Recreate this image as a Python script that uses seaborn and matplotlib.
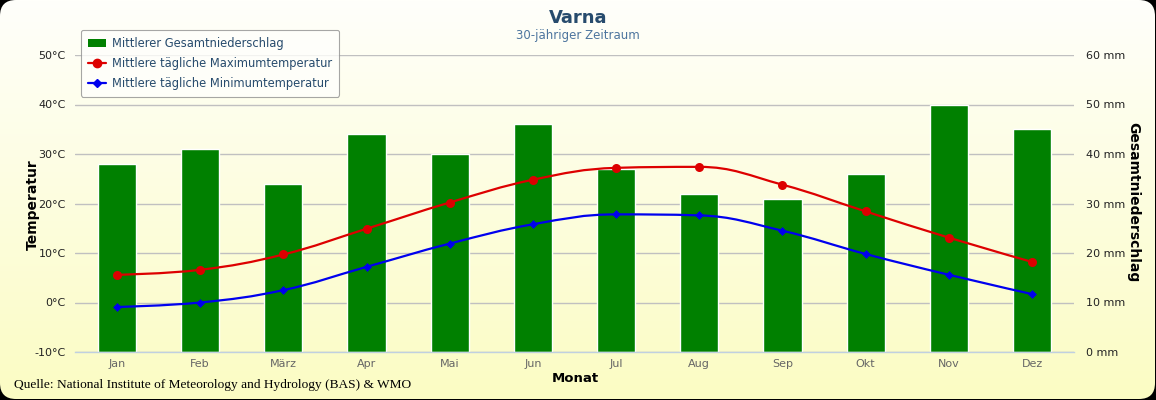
import numpy as np
import pandas as pd
import matplotlib
matplotlib.use("Agg")
import matplotlib.pyplot as plt
from matplotlib.patches import FancyBboxPatch, PathPatch
from matplotlib.path import Path
from matplotlib.lines import Line2D
from matplotlib.patches import Patch
import seaborn as sns

months = ["Jan", "Feb", "März", "Apr", "Mai", "Jun", "Jul", "Aug", "Sep", "Okt", "Nov", "Dez"]
precip = [38, 41, 34, 44, 40, 46, 37, 32, 31, 36, 50, 45]
tmax = [5.6, 6.6, 9.7, 14.9, 20.2, 24.8, 27.2, 27.4, 23.8, 18.4, 13.1, 8.2]
tmin = [-0.9, 0.0, 2.5, 7.2, 11.9, 15.8, 17.8, 17.6, 14.5, 9.8, 5.6, 1.7]
temp_ticks = [-10, 0, 10, 20, 30, 40, 50]
precip_ticks = [0, 10, 20, 30, 40, 50, 60]

sns.set_theme(style="white")
plt.rcParams["font.family"] = ["DejaVu Sans"]

W, H = 1156, 400
fig = plt.figure(figsize=(W / 100, H / 100), dpi=100, facecolor="black")

# background with rounded corners and vertical gradient
bg = fig.add_axes([0, 0, 1, 1])
bg.set_xlim(0, W)
bg.set_ylim(H, 0)
bg.axis("off")
top = np.array([255, 255, 251]) / 255
bot = np.array([251, 252, 195]) / 255
t = np.linspace(0, 1, 256)[:, None]
grad = top[None, :] * (1 - t) + bot[None, :] * t
grad = np.repeat(grad[:, None, :], 2, axis=1)
im = bg.imshow(grad, extent=[0, W, H, 0], aspect="auto", zorder=0)
clip = FancyBboxPatch((0, 0), W - 1, H - 1, boxstyle="round,pad=0,rounding_size=16",
                      transform=bg.transData, facecolor="none", edgecolor="none")
bg.add_patch(clip)
im.set_clip_path(clip)

# plot area
L, R, T, B = 75.4, 1073.6, 55, 352
ax = fig.add_axes([L / W, 1 - B / H, (R - L) / W, (B - T) / H])
ax.set_facecolor("none")
df = pd.DataFrame({"Monat": months, "precip": precip, "tmax": tmax, "tmin": tmin})

sns.barplot(data=df, x="Monat", y="precip", color="#008000", saturation=1,
            width=0.46, ax=ax, zorder=2)
ax2 = ax.twinx()

ax.set_xlim(-0.5, 11.5)
ax.set_ylim(0, 60)
ax.set_yticks(precip_ticks)
ax.set_yticklabels([f"{v} mm" for v in precip_ticks])
ax.yaxis.tick_right()
ax.yaxis.set_label_position("right")
ax.set_ylabel("Gesamtniederschlag", fontsize=10, fontweight="bold", rotation=-90,
              color="black", va="center", ha="center")
ax.yaxis.set_label_coords((1133 - L) / (R - L), (B - 202) / (B - T))
ax.set_xlabel("Monat", fontsize=9.5, fontweight="bold", color="black", va="center")
ax.xaxis.set_label_coords((575 - L) / (R - L), (B - 378) / (B - T))
ax.grid(axis="y", color="#C0C0C0", linewidth=1)
ax.set_axisbelow(True)
for s in ["top", "left", "right"]:
    ax.spines[s].set_visible(False)
ax.spines["bottom"].set_color("#C0D0E0")
ax.spines["bottom"].set_linewidth(1)
ax.tick_params(axis="y", length=0, pad=9, labelsize=8, labelcolor="#222222")
ax.tick_params(axis="x", which="major", length=0, pad=5, labelsize=8, labelcolor="#666666")
ax.set_xticks(np.arange(-0.5, 12, 1), minor=True)
ax.tick_params(axis="x", which="minor", length=5, width=1, color="#C0D0E0", direction="out")

ax2.set_facecolor("none")
ax2.set_ylim(-10, 50)
ax2.set_yticks(temp_ticks)
ax2.set_yticklabels([f"{v}°C" for v in temp_ticks])
ax2.yaxis.tick_left()
ax2.yaxis.set_label_position("left")
ax2.set_ylabel("Temperatur", fontsize=10, fontweight="bold", color="black",
               va="center", ha="center")
ax2.yaxis.set_label_coords((33 - L) / (R - L), (B - 205) / (B - T))
ax2.tick_params(axis="y", length=0, pad=7, labelsize=8, labelcolor="#222222")
for s in ax2.spines.values():
    s.set_visible(False)


def spline_path(xs, ys, smoothing=1.5):
    n = len(xs)
    denom = smoothing + 1
    lc = [(xs[i], ys[i]) for i in range(n)]
    rc = [(xs[i], ys[i]) for i in range(n)]
    for i in range(1, n - 1):
        px, py = xs[i], ys[i]
        lx, ly = xs[i - 1], ys[i - 1]
        nx, ny = xs[i + 1], ys[i + 1]
        lcx = (smoothing * px + lx) / denom
        lcy = (smoothing * py + ly) / denom
        rcx = (smoothing * px + nx) / denom
        rcy = (smoothing * py + ny) / denom
        if rcx != lcx:
            corr = ((rcy - lcy) * (rcx - px)) / (rcx - lcx) + py - rcy
            lcy += corr
            rcy += corr
        if lcy > ly and lcy > py:
            lcy = max(ly, py)
            rcy = 2 * py - lcy
        elif lcy < ly and lcy < py:
            lcy = min(ly, py)
            rcy = 2 * py - lcy
        if rcy > ny and rcy > py:
            rcy = max(ny, py)
            lcy = 2 * py - rcy
        elif rcy < ny and rcy < py:
            rcy = min(ny, py)
            lcy = 2 * py - rcy
        lc[i] = (lcx, lcy)
        rc[i] = (rcx, rcy)
    verts = [(xs[0], ys[0])]
    codes = [Path.MOVETO]
    for i in range(1, n):
        verts += [rc[i - 1], lc[i], (xs[i], ys[i])]
        codes += [Path.CURVE4] * 3
    return Path(verts, codes)


xpos = np.arange(len(months))
for vals, col, mk, ms in [(tmax, "#DD0000", "o", 6.5), (tmin, "#0000EE", "D", 4.5)]:
    path = spline_path(list(xpos), list(vals))
    ax2.add_patch(PathPatch(path, facecolor="none", edgecolor=col, linewidth=1.6, zorder=3))
    sns.scatterplot(x=xpos, y=vals, color=col, marker=mk, s=ms ** 2, linewidth=0,
                    ax=ax2, zorder=4, legend=False)
ax2.set_xlim(-0.5, 11.5)

# titles
fig.text(578 / W, 1 - 18 / H, "Varna", ha="center", va="center", fontsize=13,
         fontweight="bold", color="#274b6d")
fig.text(578 / W, 1 - 36 / H, "30-jähriger Zeitraum", ha="center", va="center",
         fontsize=8.5, color="#4d759e")

# legend
handles = [
    Patch(facecolor="#008000", edgecolor="none"),
    Line2D([0], [0], color="#DD0000", marker="o", markersize=6, linewidth=1.6),
    Line2D([0], [0], color="#0000EE", marker="D", markersize=4.5, linewidth=1.6),
]
labels = ["Mittlerer Gesamtniederschlag", "Mittlere tägliche Maximumtemperatur",
          "Mittlere tägliche Minimumtemperatur"]
leg = fig.legend(handles, labels, loc="upper left", bbox_to_anchor=(81 / W, 1 - 30 / H),
                 fontsize=8.3, frameon=True, fancybox=True, handlelength=1.6,
                 handletextpad=0.5, labelspacing=0.6, borderpad=0.6,
                 borderaxespad=0)
leg.get_frame().set_edgecolor("#909090")
leg.get_frame().set_facecolor("#FFFFFC")
leg.get_frame().set_linewidth(0.8)
for txt in leg.get_texts():
    txt.set_color("#274b6d")

# source
fig.text(14 / W, 1 - 385 / H,
         "Quelle: National Institute of Meteorology and Hydrology (BAS) & WMO",
         ha="left", va="center", fontsize=9.6, color="black",
         family=["Liberation Serif", "DejaVu Serif"])

fig.savefig("out.png", dpi=100, facecolor=fig.get_facecolor())
